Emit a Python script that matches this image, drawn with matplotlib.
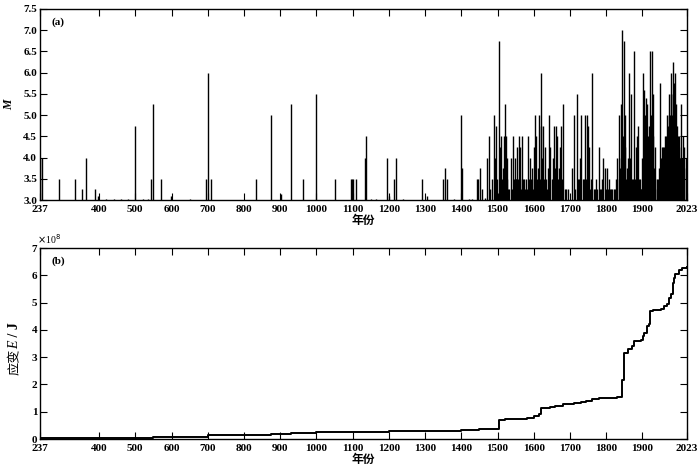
import matplotlib
matplotlib.use("Agg")
import matplotlib.pyplot as plt
from matplotlib.ticker import FormatStrFormatter

# ---------------- data ----------------
eq_years = [238, 243, 289, 333, 354, 363, 389, 397, 420, 440, 460, 480, 500, 520, 535, 543, 548,
            572, 599, 650, 694, 701, 710, 832, 874, 902, 930, 963, 1000, 1050, 1096, 1099, 1101,
            1109, 1134, 1136, 1150, 1165, 1194, 1200, 1215, 1219, 1240, 1291, 1305, 1349, 1356,
            1361, 1380, 1400, 1401, 1420, 1430,
            1443, 1445, 1452, 1456, 1466, 1472, 1477, 1480, 1484, 1489, 1493, 1496, 1499, 1503,
            1506, 1509, 1511, 1514, 1517, 1520, 1523, 1525, 1527, 1530, 1532, 1537, 1541, 1544,
            1546, 1548, 1550, 1552, 1554, 1556, 1559, 1561, 1563, 1565, 1568, 1570, 1572, 1575,
            1578, 1580, 1583, 1586, 1589, 1591, 1594, 1597, 1600, 1602, 1604, 1607, 1610, 1612,
            1615, 1617, 1619, 1621, 1623, 1625, 1628, 1630, 1633, 1636, 1639, 1643, 1646, 1649,
            1653, 1655, 1657, 1659, 1661, 1663, 1665, 1667, 1669, 1672, 1674, 1676, 1678, 1680,
            1685, 1689, 1694, 1706, 1710, 1714, 1719, 1723, 1726, 1729, 1731, 1735, 1738, 1742,
            1745, 1748, 1750, 1753, 1756, 1759, 1762, 1765, 1769, 1772, 1775, 1780, 1783, 1786,
            1789, 1792, 1796, 1799, 1801, 1805, 1808, 1810, 1814, 1817, 1821, 1825, 1828, 1831,
            1834, 1836, 1838, 1840, 1842, 1844, 1846, 1849, 1851, 1853, 1855, 1857, 1860, 1862,
            1864, 1866, 1868, 1870, 1872, 1874, 1877, 1879, 1881, 1884, 1886, 1888, 1890, 1893,
            1895, 1897, 1899, 1902, 1903, 1905, 1907, 1909, 1911, 1913, 1915, 1917, 1919, 1921,
            1923, 1924, 1926, 1928, 1930, 1932, 1934, 1936, 1939, 1941, 1944, 1946, 1949, 1951,
            1953, 1955, 1957, 1959, 1962, 1964, 1966, 1968, 1970, 1972, 1974, 1976, 1978, 1980,
            1981, 1983, 1985, 1986, 1988, 1990, 1991, 1992, 1994, 1996, 1998, 2000, 2002, 2004,
            2006, 2008, 2011, 2013, 2016, 2019, 2021]
eq_mags = [4.0, 4.0, 3.5, 3.5, 3.25, 4.0, 3.25, 3.1, 3.03, 3.03, 3.02, 3.03, 4.75, 3.03, 3.03, 3.5, 5.25,
           3.5, 3.1, 3.02, 3.5, 6.0, 3.5, 3.5, 5.0, 3.15, 5.25, 3.5, 5.5, 3.5, 3.5, 3.5, 3.5,
           3.5, 4.0, 4.5, 3.03, 3.03, 4.0, 3.1, 3.5, 4.0, 3.02, 3.5, 3.1, 3.5, 3.75,
           3.5, 3.03, 5.0, 3.75, 3.03, 3.03,
           3.5, 3.5, 3.75, 3.25, 3.05, 4.0, 4.5, 3.25, 3.5, 5.0, 4.0, 4.75, 3.5, 6.75,
           4.25, 4.5, 3.5, 3.75, 4.5, 5.25, 4.5, 3.5, 4.0, 3.25, 3.25, 4.0, 3.25, 4.5,
           3.5, 4.0, 3.5, 3.5, 4.25, 3.5, 4.5, 3.5, 4.25, 3.25, 4.5, 3.5, 3.5, 3.25,
           3.5, 3.25, 4.5, 3.5, 4.0, 3.5, 3.75, 3.25, 4.25, 3.5, 5.0, 4.5, 3.5, 3.75,
           5.0, 3.5, 4.75, 6.0, 4.0, 4.75, 3.5, 4.25, 3.5, 3.25, 3.75, 5.0, 4.25, 3.5,
           4.0, 3.5, 4.75, 3.75, 4.75, 3.5, 4.5, 3.5, 3.75, 4.25, 3.25, 4.75, 3.5, 5.25,
           3.25, 3.25, 3.25, 3.75, 5.0, 3.25, 5.5, 3.5, 3.5, 4.0, 5.0, 3.5, 3.5, 5.0,
           3.5, 5.0, 4.75, 4.25, 3.25, 3.5, 6.0, 3.25, 3.25, 3.5, 3.25, 4.25, 3.25, 3.25,
           3.5, 4.0, 3.75, 3.25, 3.75, 3.25, 3.5, 3.25, 3.25, 3.25, 3.25, 3.25, 3.5, 4.0,
           3.5, 5.0, 3.75, 4.0, 5.25, 7.0, 4.5, 6.75, 4.25, 5.0, 3.5, 3.75, 4.0, 3.5,
           6.0, 4.0, 5.5, 3.5, 3.25, 3.5, 6.5, 3.5, 4.25, 4.5, 3.25, 4.75, 3.5, 3.5,
           3.25, 3.25, 4.0, 6.0, 4.5, 5.6, 5.0, 5.4, 4.75, 5.25, 4.5, 4.25, 4.75, 6.5,
           5.0, 4.25, 6.5, 4.5, 5.5, 3.75, 4.25, 3.5, 3.5, 3.25, 3.5, 3.75, 5.75, 4.0,
           4.25, 4.0, 4.25, 4.25, 4.5, 4.25, 4.5, 5.0, 4.75, 5.0, 5.5, 5.0, 6.0, 5.5,
           5.0, 6.25, 5.5, 5.75, 5.25, 6.0, 5.0, 4.75, 5.25, 4.75, 4.5, 4.5, 4.25, 4.0,
           5.25, 4.0, 4.5, 3.75, 4.25, 4.0, 3.75]

strain_years = [237, 238, 360, 500, 548, 572, 701, 874, 930, 1000, 1100, 1135, 1200, 1220, 1350,
                1400, 1450, 1480, 1503, 1520, 1545, 1580, 1600, 1615, 1621, 1645, 1660, 1680,
                1710, 1730, 1745, 1762, 1780, 1830, 1844, 1850, 1860, 1872, 1877, 1897, 1902,
                1905, 1913, 1917, 1921, 1930, 1950, 1960, 1968, 1974, 1978, 1983, 1986, 1990,
                2000, 2010, 2023]
strain_vals = [0.0, 0.02, 0.03, 0.05, 0.07, 0.08, 0.15, 0.18, 0.21, 0.25, 0.26, 0.27, 0.28, 0.30,
               0.31, 0.34, 0.36, 0.38, 0.69, 0.73, 0.75, 0.78, 0.86, 0.92, 1.12, 1.17, 1.22, 1.28,
               1.31, 1.36, 1.40, 1.48, 1.51, 1.54, 2.17, 3.15, 3.30, 3.40, 3.58, 3.64, 3.76,
               3.90, 4.15, 4.20, 4.68, 4.74, 4.78, 4.86, 4.95, 5.15, 5.30, 5.72, 5.90, 6.05,
               6.18, 6.25, 6.30]

x_ticks = [237, 400, 500, 600, 700, 800, 900, 1000, 1100, 1200, 1300, 1400, 1500, 1600, 1700,
           1800, 1900, 2023]
m_ticks = [3.0, 3.5, 4.0, 4.5, 5.0, 5.5, 6.0, 6.5, 7.0, 7.5]
e_ticks = [0, 1, 2, 3, 4, 5, 6, 7]

# ---------------- style ----------------
SERIF = ['Liberation Serif', 'DejaVu Serif']
CJK = ['Noto Sans CJK SC', 'DejaVu Sans']
plt.rcParams['font.family'] = SERIF
plt.rcParams['axes.linewidth'] = 1.0

fig = plt.figure(figsize=(7.0, 4.69), dpi=100)
ax1 = fig.add_axes([40/700, 1-200/469, 647/700, 191/469])
ax2 = fig.add_axes([40/700, 1-439/469, 647/700, 191/469])

ax1.vlines(eq_years, 3.0, eq_mags, colors='black', linewidth=1.0)
ax1.set_xlim(237, 2023)
ax1.set_ylim(3.0, 7.5)
ax1.set_yticks(m_ticks)
ax1.yaxis.set_major_formatter(FormatStrFormatter('%.1f'))

ax2.plot(strain_years, strain_vals, drawstyle='steps-post', color='black', linewidth=1.4)
ax2.set_xlim(237, 2023)
ax2.set_ylim(0, 7)
ax2.set_yticks(e_ticks)

for ax in (ax1, ax2):
    ax.set_xticks(x_ticks)
    ax.set_xticklabels([str(t) for t in x_ticks])
    ax.tick_params(direction='in', top=True, right=True, length=5, width=0.8,
                   labelsize=8)
    ax.tick_params(axis='x', pad=3.5)
    ax.tick_params(axis='y', pad=2)
    for lab in ax.get_xticklabels() + ax.get_yticklabels():
        lab.set_fontweight('bold')
    ax.set_xlabel('年份', family=CJK, fontsize=8.5, fontweight='bold', labelpad=0)

ax1.text(0.018, 0.955, '(a)', transform=ax1.transAxes, fontsize=8, fontweight='bold', va='top')
ax2.text(0.018, 0.955, '(b)', transform=ax2.transAxes, fontsize=8, fontweight='bold', va='top')
ax1.set_ylabel('M', fontsize=8.5, fontweight='bold', style='italic', labelpad=6)
ax2.text(-0.004, 1.012, r'$\times$10$^8$', transform=ax2.transAxes, fontsize=7, ha='left', va='bottom')

# composite y label for bottom panel: 应变E / J
fig.canvas.draw()
renderer = fig.canvas.get_renderer()
xl = 15/700
pieces = [('应变', dict(family=CJK, fontsize=9.5)),
          ('E', dict(family=SERIF, fontsize=10, style='italic')),
          (' / J', dict(family=SERIF, fontsize=10, fontweight='bold'))]
texts = []
for s, kw in pieces:
    t = fig.text(xl, 0.5, s, rotation=90, ha='center', va='bottom', **kw)
    texts.append(t)
heights = [t.get_window_extent(renderer).height / fig.bbox.height for t in texts]
ycur = (1 - 349/469) - sum(heights) / 2
for t, h in zip(texts, heights):
    t.set_y(ycur)
    ycur += h

fig.savefig('out.png', dpi=100)
